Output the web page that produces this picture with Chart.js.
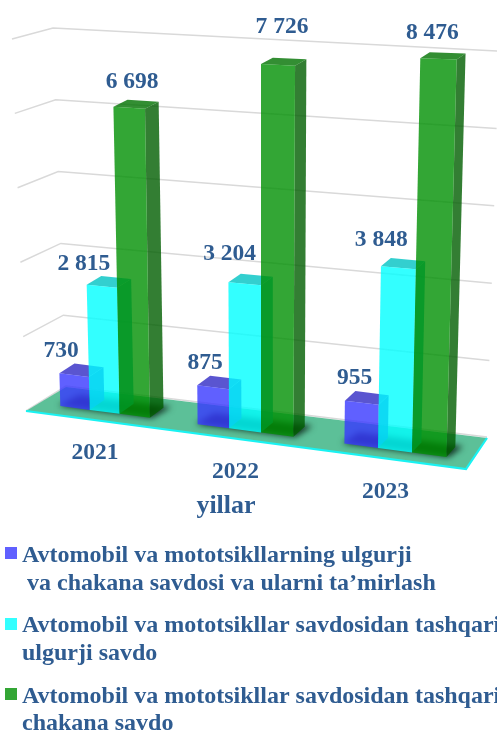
<!DOCTYPE html>
<html>
<head>
<meta charset="utf-8">
<title>Avtomobil savdosi</title>
<script src="https://cdn.jsdelivr.net/npm/chart.js@4"></script>
<style>
  html, body { margin: 0; padding: 0; background: #fff; overflow: hidden; }
  canvas { display: block; }
</style>
</head>
<body>
<canvas id="chart-goes-here" width="497" height="731"></canvas>
<script>
const categories = ['2021', '2022', '2023'];
const repairValues = [730, 875, 955];
const wholesaleValues = [2815, 3204, 3848];
const retailValues = [6698, 7726, 8476];
const axisTitle = 'yillar';
const legendLines = [
    ['Avtomobil va mototsikllarning ulgurji', ' va chakana savdosi va ularni ta’mirlash'],
    ['Avtomobil va mototsikllar savdosidan tashqari', 'ulgurji savdo'],
    ['Avtomobil va mototsikllar savdosidan tashqari', 'chakana savdo'],
];

// label nudges from the top of each bar
const labelNudge = [
    [[-13, -24], [-8, -24], [-7, -25]],
    [[-18, -22], [-15, -30], [-17, -28]],
    [[3, -26], [4, -38], [-6, -26]],
];
const TEXT = '#2f5c91';
const SERIF = '"Liberation Serif", serif';
const faces = [
    { front: 'rgba(56,56,255,.8)', side: 'rgba(30,30,190,.8)', top: 'rgba(49,42,196,.8)' },
    { front: 'rgba(0,255,255,.8)', side: 'rgba(0,180,180,.8)', top: 'rgba(0,195,195,.8)' },
    { front: 'rgba(0,144,2,.8)', side: 'rgba(0,94,0,.8)', top: 'rgba(0,114,0,.8)' },
];
const swatches = ['#6060ff', '#33ffff', '#33a635'];
// the source picture's perspective stretches each bar a little differently
const heightTweak = [
    [0.97, 0.96, 0.97],
    [0.96, 0.985, 1.02],
    [0.99, 1.03, 1.005],
];

// floor and wall corners of the tilted box
const floorFL = [26, 411], floorFR = [466, 469], floorBR = [487, 438], floorBL = [66, 387];
const wallFL = [12, 39], wallBL = [53, 28], wallBR = [499, 51];

const lerp = (a, b, t) => a + (b - a) * t;
const lerp2 = (p, q, t) => [lerp(p[0], q[0], t), lerp(p[1], q[1], t)];

function poly(ctx, pts, fill) {
    ctx.beginPath();
    pts.forEach((p, i) => i ? ctx.lineTo(p[0], p[1]) : ctx.moveTo(p[0], p[1]));
    ctx.closePath();
    ctx.fillStyle = fill;
    ctx.fill();
}

// bars come from the chart in flat pixels, this tilts them into the picture
function spreader(chart) {
    const x = chart.scales.x;
    const u0 = x.getPixelForTick(0), u2 = x.getPixelForTick(2);
    return u => u + 0.000225 * (u - u0) * (u - u2);
}
const baseY = x => 406 + 0.132 * (x - 60);

function boxCorner(spread, cu, u, h, d) {
    const cx = spread(cu), x = spread(u);
    const frac = h / 400;
    const slope = lerp(0.132, 0.04, frac);
    const dx = 16 - 0.016 * x;
    return [
        x + dx * d + (x - 262) * 0.00014 * h,
        baseY(cx) + (x - cx) * slope - h + d * lerp(-10, -6, frac),
    ];
}

const tiltPlugin = {
    id: 'tilt',
    beforeDatasetsDraw(chart) {
        const ctx = chart.ctx;
        const yScale = chart.scales.y, xScale = chart.scales.x;
        const spread = spreader(chart);
        const nCat = categories.length, nSer = chart.data.datasets.length;
        const bars = chart.data.datasets.map((_, s) => chart.getDatasetMeta(s).data);

        // walls
        ctx.save();
        ctx.strokeStyle = '#d9d9d9';
        ctx.lineWidth = 1.5;
        yScale.ticks.forEach(t => {
            const f = t.value / yScale.max;
            if (f === 0) return;
            const a = lerp2(floorFL, wallFL, f), b = lerp2(floorBL, wallBL, f), c = lerp2(floorBR, wallBR, f);
            ctx.beginPath();
            ctx.moveTo(a[0], a[1]);
            ctx.lineTo(b[0], b[1]);
            ctx.lineTo(c[0], c[1]);
            ctx.stroke();
        });

        // floor
        ctx.beginPath();
        ctx.moveTo(floorFL[0], floorFL[1]);
        ctx.lineTo(floorBL[0], floorBL[1] - 1);
        ctx.lineTo(floorBR[0], floorBR[1] - 1);
        ctx.stroke();
        poly(ctx, [floorFL, floorBL, floorBR, floorFR], '#5cc098');
        ctx.strokeStyle = '#19f2f2';
        ctx.lineWidth = 2.2;
        ctx.beginPath();
        ctx.moveTo(floorFL[0], floorFL[1]);
        ctx.lineTo(floorFR[0], floorFR[1]);
        ctx.lineTo(floorBR[0], floorBR[1]);
        ctx.stroke();

        // soft shadow under each group
        ctx.filter = 'blur(3px)';
        for (let c = 0; c < nCat; c++) {
            const first = bars[0][c], last = bars[nSer - 1][c];
            const l = first.x - first.width / 2, r = last.x + last.width / 2;
            const corner = (u, d) => {
                const x = spread(u);
                return [x + (16 - 0.016 * x) * d, baseY(x) - 10 * d];
            };
            poly(ctx, [corner(l - 2, 0), corner(r + 2, 0), corner(r + 6, 1.15), corner(l + 2, 1.15)], 'rgba(14,40,26,.93)');
        }
        ctx.filter = 'none';

        // bars, left to right and back to front
        const tipOf = (s, c) => {
            const bar = bars[s][c];
            return (bar.base - bar.y) * heightTweak[s][c];
        };
        for (let c = 0; c < nCat; c++) {
            for (let s = 0; s < nSer; s++) {
                const bar = bars[s][c];
                const h = tipOf(s, c);
                const l = bar.x - bar.width / 2, r = bar.x + bar.width / 2;
                const p = (u, hh, d) => boxCorner(spread, bar.x, u, hh, d);
                poly(ctx, [p(r, 0, 0), p(r, 0, 1), p(r, h, 1), p(r, h, 0)], faces[s].side);
                poly(ctx, [p(l, h, 0), p(r, h, 0), p(r, h, 1), p(l, h, 1)], faces[s].top);
                poly(ctx, [p(l, 0, 0), p(r, 0, 0), p(r, h, 0), p(l, h, 0)], faces[s].front);
            }
        }

        // value labels
        ctx.fillStyle = TEXT;
        ctx.textAlign = 'center';
        ctx.textBaseline = 'middle';
        ctx.font = 'bold 23.5px ' + SERIF;
        chart.data.datasets.forEach((ds, s) => {
            ds.data.forEach((v, c) => {
                const bar = bars[s][c];
                const top = boxCorner(spread, bar.x, bar.x, tipOf(s, c), 0);
                const txt = v >= 1000 ? String(v).replace(/(\d)(\d{3})$/, '$1 $2') : String(v);
                ctx.fillText(txt, top[0] + labelNudge[s][c][0], top[1] + labelNudge[s][c][1]);
            });
        });

        // category labels follow the tilted floor
        categories.forEach((lab, c) => {
            const x = spread(xScale.getPixelForTick(c)) - 9.5;
            ctx.fillText(lab, x, 453 + 0.134 * (x - 94));
        });
        ctx.font = 'bold 26px ' + SERIF;
        ctx.fillText(axisTitle, 226, 506);

        // legend
        ctx.textAlign = 'left';
        ctx.textBaseline = 'alphabetic';
        ctx.font = 'bold 24px ' + SERIF;
        const rows = [[547, 562, 590], [618, 632, 660], [688, 703, 730]];
        legendLines.forEach((lines, i) => {
            ctx.fillStyle = swatches[i];
            ctx.fillRect(5, rows[i][0], 12, 12);
            ctx.fillStyle = TEXT;
            lines.forEach((ln, j) => {
                const indent = ln.startsWith(' ') ? 5 : 0;
                ctx.fillText(ln.trim(), 22 + indent, rows[i][j + 1]);
            });
        });
        ctx.restore();
        return false;
    }
};

const data = {
    labels: categories,
    datasets: [
        { label: legendLines[0].join(' '), data: repairValues, backgroundColor: swatches[0] },
        { label: legendLines[1].join(' '), data: wholesaleValues, backgroundColor: swatches[1] },
        { label: legendLines[2].join(' '), data: retailValues, backgroundColor: swatches[2] },
    ]
};

const config = {
    type: 'bar',
    data: data,
    options: {
        responsive: false,
        animation: false,
        devicePixelRatio: 1,
        categoryPercentage: 0.66,
        barPercentage: 1,
        layout: { padding: { left: 32, right: 29.5, top: 55, bottom: 281 } },
        plugins: { legend: { display: false }, tooltip: { enabled: false }, title: { display: false } },
        scales: {
            x: { display: false },
            y: { display: false, min: 0, max: 8500, ticks: { stepSize: 1700 } },
        }
    },
    plugins: [tiltPlugin]
};

const myChart = new Chart(document.getElementById('chart-goes-here'), config);
</script>
</body>
</html>
